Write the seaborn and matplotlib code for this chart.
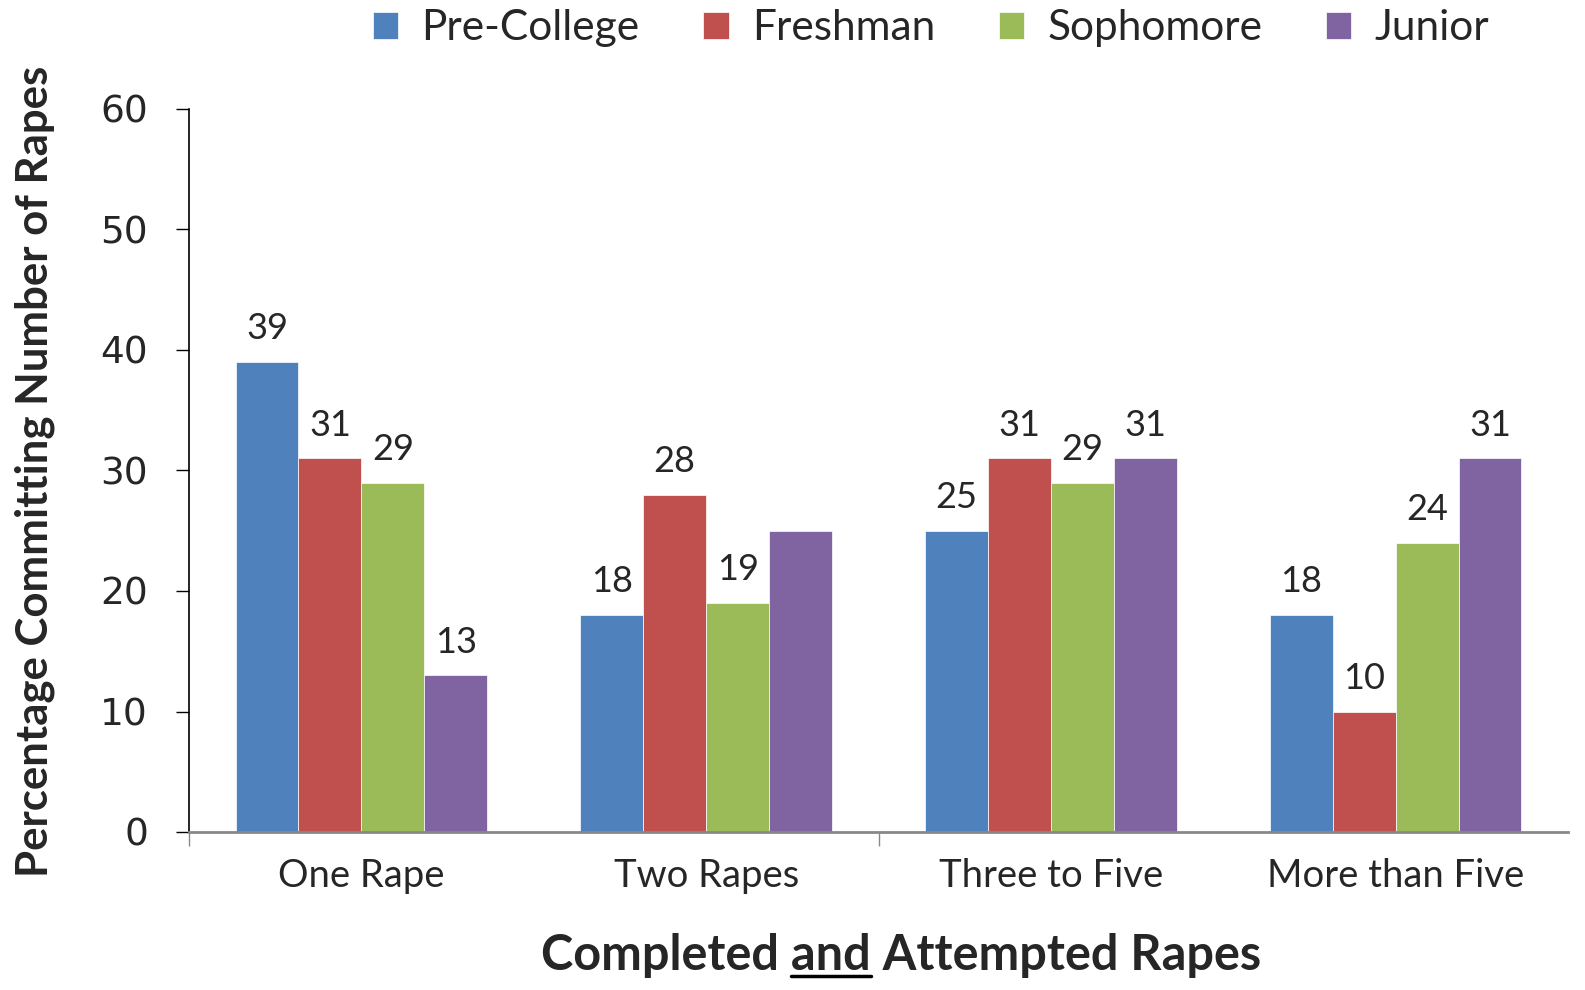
import matplotlib
matplotlib.use("Agg")
import matplotlib.pyplot as plt
import seaborn as sns
import pandas as pd
from matplotlib.lines import Line2D

categories = ["One Rape", "Two Rapes", "Three to Five", "More than Five"]
series_names = ["Pre-College", "Freshman", "Sophomore", "Junior"]
pre_college = [39, 18, 25, 18]
freshman = [31, 28, 31, 10]
sophomore = [29, 19, 29, 24]
junior = [13, 25, 31, 31]
# Junior / Two Rapes has no label in the reference
junior_labels = ["13", "", "31", "31"]
colors = ["#4F81BD", "#C0504D", "#9BBB59", "#8064A2"]

rows = []
for name, vals in zip(series_names, [pre_college, freshman, sophomore, junior]):
    for c, v in zip(categories, vals):
        rows.append({"cat": c, "series": name, "val": v})
df = pd.DataFrame(rows)

sns.set_theme(style="white")
FONT = ["Lato", "DejaVu Sans"]
plt.rcParams["font.family"] = FONT

W, H = 1585, 990
fig = plt.figure(figsize=(W / 100, H / 100), dpi=100)
ax = fig.add_axes([189/W, 1-832/H, (1568-189)/W, (832-109)/H])

sns.barplot(data=df, x="cat", y="val", hue="series", order=categories,
            hue_order=series_names, palette=colors, width=0.73,
            saturation=1, ax=ax, linewidth=0.5, edgecolor="white", legend=True)

ax.set_ylim(0, 60)
ax.set_xlim(-0.5, 3.5)
ax.set_yticks(range(0, 61, 10))
ax.tick_params(axis="y", labelsize=27, length=9.5, width=1, color="black",
               direction="out", left=True, pad=20)
for lab in ax.get_yticklabels():
    lab.set_fontfamily(["DejaVu Sans"])
ax.set_xticks(range(4))
ax.set_xticklabels(categories)
ax.tick_params(axis="x", which="major", labelsize=27.5, length=0, pad=19)
ax.set_xticks([-0.5, 1.5], minor=True)
ax.tick_params(axis="x", which="minor", length=10, width=1, color="#888888",
               direction="out", bottom=True)

for s in ["top", "right"]:
    ax.spines[s].set_visible(False)
ax.spines["left"].set_color("black")
ax.spines["left"].set_linewidth(1.2)
ax.spines["bottom"].set_color("#888888")
ax.spines["bottom"].set_linewidth(2)

label_sets = [[str(v) for v in pre_college], [str(v) for v in freshman],
              [str(v) for v in sophomore], junior_labels]
for cont, labs in zip(ax.containers, label_sets):
    ax.bar_label(cont, labels=labs, padding=12, fontsize=26)

ax.set_ylabel("")
ax.set_xlabel("")
fig.text(35 / W, 1 - 471 / H, "Percentage Committing Number of Rapes",
         rotation=90, fontsize=31.5, fontweight="bold", ha="center", va="center")

handles, labels = ax.get_legend_handles_labels()
if ax.get_legend() is not None:
    ax.get_legend().remove()
fig.legend(handles, labels, loc="center", bbox_to_anchor=(931 / W, 1 - 28 / H), ncol=4,
           frameon=False, fontsize=30.5, handlelength=0.6, handleheight=0.6,
           columnspacing=1.5, handletextpad=0.55)

# x label with underlined "and"
parts = ["Completed ", "and", " Attempted Rapes"]
fig.canvas.draw()
renderer = fig.canvas.get_renderer()
kw = dict(fontsize=35, fontweight="bold", va="center", ha="left")
t = fig.text(0, 0, "Completed\u00a0", **kw)
w0 = t.get_window_extent(renderer).width
t.remove()
t = fig.text(0, 0, "and", **kw)
w1 = t.get_window_extent(renderer).width
t.remove()
t = fig.text(0, 0, "".join(parts), **kw)
total_w = t.get_window_extent(renderer).width
t.remove()
cx = 901
x0 = cx - total_w / 2
fig.text(x0 / W, 1 - 955 / H, "".join(parts), **kw)
ux0 = x0 + w0
ux1 = ux0 + w1
fig.add_artist(Line2D([ux0 / W, ux1 / W], [1 - 976 / H, 1 - 976 / H],
                      color="black", linewidth=2.5, transform=fig.transFigure))

fig.savefig("out.png", dpi=100)
